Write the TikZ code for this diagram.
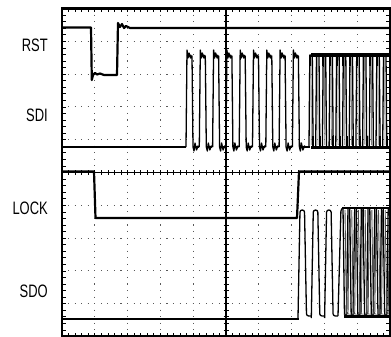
\documentclass[tikz,border=0pt]{standalone}
\usepackage{fontspec}
\setmainfont{Liberation Sans}
\begin{document}
\begin{tikzpicture}[x=1pt,y=-1pt,
  trace/.style={line width=1.3pt, black, line join=round},
  level/.style={line width=2.2pt, black, line join=round},
  gridline/.style={line width=1.1pt, gray!70!black, dash pattern=on 1.1pt off 5.46pt},
  axis/.style={line width=1.2pt, black},
  tick/.style={line width=0.7pt, black},
  frame/.style={line width=2.8pt, black},
  lbl/.style={anchor=east, inner sep=0pt, font=\fontsize{18}{18}\selectfont}]
\useasboundingbox (0,0) rectangle (391,337);
\fill[white] (0,0) rectangle (391,337);
% graticule
\foreach \i in {1,2,3,4,6,7,8,9} {
  \draw[gridline] ({62+32.8*\i},{8.5+6.56-0.55}) -- ({62+32.8*\i},336);
  \draw[gridline] ({62+6.56-0.55},{8.5+32.8*\i}) -- (390,{8.5+32.8*\i});
}
\draw[axis] (226,8.5) -- (226,336.5);
\draw[axis] (62,172.5) -- (390,172.5);
\foreach \k in {1,...,49} {
  \draw[tick] ({62+6.56*\k},170) -- ++(0,5);
  \draw[tick] (223.5,{8.5+6.56*\k}) -- ++(5,0);
  \draw[tick] ({62+6.56*\k},8.5) -- ++(0,4);
  \draw[tick] ({62+6.56*\k},336.5) -- ++(0,-4);
  \draw[tick] (62,{8.5+6.56*\k}) -- ++(4,0);
  \draw[tick] (390,{8.5+6.56*\k}) -- ++(-4,0);
}
% RST
\draw[level] (62,27.5) -- (91,27.5) -- (91.8,80) -- (93,75) -- (95,73) -- (97,74.5) -- (100,73.5) -- (104,75) -- (110,75) -- (117,75) -- (118,23) -- (120,27) -- (122,24) -- (124,28) -- (126,26) -- (130,28) -- (390,28);
% SDI
\draw[level] (62,147) -- (186,147);
\foreach \i in {0,...,8} {
  \pgfmathsetmacro\xo{186+13.3*\i}
  \draw[trace] (\xo,147) -- ({\xo+1},50) -- ({\xo+2},58) -- ({\xo+3},53) -- ({\xo+4.5},58) -- ({\xo+6},56) -- ({\xo+7},147) -- ({\xo+8},151) -- ({\xo+9},143) -- ({\xo+10.5},150) -- ({\xo+12},146) -- ({\xo+13.3},147);
  \draw[line width=2.2pt] ({\xo+1},55) -- ({\xo+5.5},56);
  \draw[line width=2.2pt] ({\xo+7.5},147) -- ({\xo+12.5},147);
}
\draw[level] (305,147) -- (310,147);
\foreach \k in {0,...,11} {
  \pgfmathsetmacro\xa{309+6.7*\k}
  \draw[trace] (\xa,147) -- ({\xa+0.8},55) -- ({\xa+3.3},55) -- ({\xa+4.1},147) -- ({\xa+6.7},147);
  \draw[gray, line width=0.8pt] ({\xa+2},57) -- ({\xa+2.3},145);
  \draw[line width=1.8pt] ({\xa+0.8},55) -- ({\xa+0.8},66);
  \draw[line width=1.8pt] ({\xa+4.1},147) -- ({\xa+4.1},136);
}
\draw[line width=3.2pt] (311,55) -- (390,55);
\draw[line width=3.2pt] (311,147.5) -- (390,147.5);
% LOCK
\draw[level] (62,171.5) -- (94,171.5) -- (95.5,218) -- (297,218) -- (299,171.5) -- (390,171.5);
% SDO
\draw[level] (62,319) -- (298.5,319);
\foreach \i in {0,1,2} {
  \pgfmathsetmacro\xo{299.5+13.3*\i}
  \draw[trace, rounded corners=2.2pt] ({\xo-1.5},318) -- ({\xo+0.5},210) -- ({\xo+5},210) -- ({\xo+7},316) -- ({\xo+11.8},316);
}
\draw[trace, rounded corners=3pt] (338,316) -- (341,208) -- (350,208);
\foreach \k in {0,...,6} {
  \pgfmathsetmacro\xa{343+6.7*\k}
  \draw[trace, rounded corners=2pt] (\xa,208) -- ({\xa+1.5},316) -- ({\xa+3.5},316) -- ({\xa+5},208);
  \draw[gray!60!black, line width=0.9pt, rounded corners=2pt] ({\xa+2},210) -- ({\xa+3.5},314) -- ({\xa+5},314) -- ({\xa+6.2},210);
}
\draw[line width=2.6pt] (342,208) -- (390,208);
\draw[line width=2.6pt] (344,316.5) -- (390,316.5);
% frame
\draw[frame] (62,8.5) rectangle (390,336.5);
% labels
\node[lbl] (rst) at (48,45) {\scalebox{0.72}[1]{RST}};
\node[lbl] (sdi) at (48,115) {\scalebox{0.72}[1]{SDI}};
\node[lbl] (lock) at (48,208.5) {\scalebox{0.72}[1]{LOCK}};
\node[lbl] (sdo) at (48,291) {\scalebox{0.72}[1]{SDO}};
\end{tikzpicture}
\end{document}
